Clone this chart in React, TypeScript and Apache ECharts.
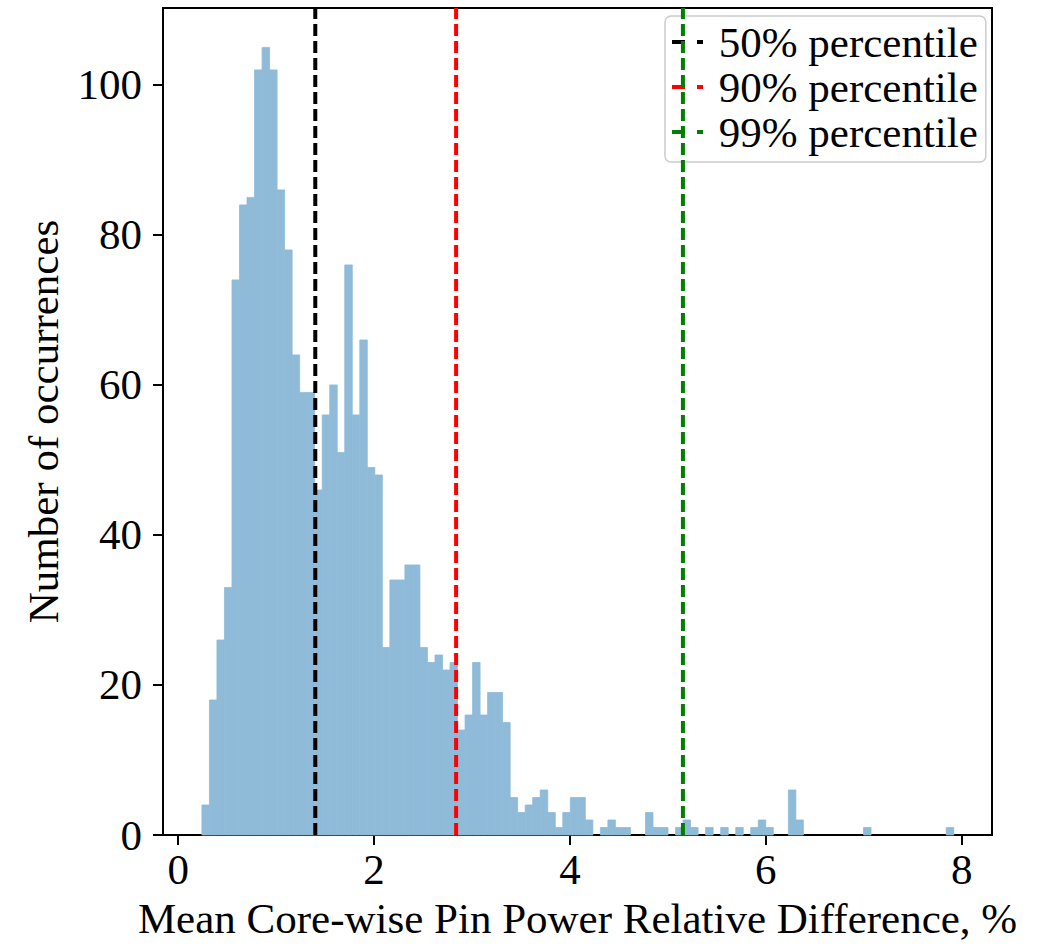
import React, { useEffect, useRef } from "react";
import * as echarts from "echarts";

const binStart = 0.2423;
const binWidth = 0.07677;
const counts = [
  4, 18, 26, 33, 74, 84, 85, 102, 105, 102,
  86, 78, 64, 59, 59, 46, 56, 60, 51, 76,
  56, 66, 49, 48, 25, 34, 34, 36, 36, 25,
  23, 24, 22, 23, 14, 16, 23, 16, 19, 19,
  15, 5, 3, 4, 5, 6, 3, 1, 3, 5,
  5, 2, 0, 1, 2, 1, 1, 0, 0, 3,
  1, 1, 0, 1, 2, 1, 0, 1, 0, 1,
  0, 1, 0, 1, 2, 1, 0, 0, 6, 2,
  0, 0, 0, 0, 0, 0, 0, 0, 1, 0,
  0, 0, 0, 0, 0, 0, 0, 0, 0, 1,
];
const percentileNames = ["50% percentile", "90% percentile", "99% percentile"];
const percentileValues = [1.4, 2.838, 5.154];
const percentileColors = ["#000000", "#ff0000", "#008000"];
const xTicks = [0, 2, 4, 6, 8];
const yTicks = [0, 20, 40, 60, 80, 100];
const xName = "Mean Core-wise Pin Power Relative Difference, %";
const yName = "Number of occurrences";

const X_MIN = -0.155;
const X_MAX = 8.31;
const Y_MAX = 110.25;
const FONT = "'Liberation Serif', 'Times New Roman', serif";
const FS = 43;
const BAR_COLOR = "#8fbbd9";

export default function App() {
  const ref = useRef<HTMLDivElement>(null);
  useEffect(() => {
    if (!ref.current) return;
    const chart = echarts.init(ref.current, null, { renderer: "svg" });
    const histData = counts.map((c, i) => [
      binStart + i * binWidth,
      binStart + (i + 1) * binWidth,
      c,
    ]);
    const lineSeries = percentileNames.map((name, i) => ({
      name,
      type: "line",
      data: [
        [percentileValues[i], 0],
        [percentileValues[i], Y_MAX],
      ],
      symbol: "none",
      silent: true,
      z: 5,
      itemStyle: { color: percentileColors[i] },
      lineStyle: { color: percentileColors[i], width: 4, type: [12, 5] },
    }));
    const axisCommon = {
      axisLine: { show: true, onZero: false, lineStyle: { color: "#000", width: 2 } },
      axisTick: { show: true, inside: false, length: 10, lineStyle: { color: "#000", width: 2 } },
      splitLine: { show: false },
    };
    chart.setOption({
      animation: false,
      backgroundColor: "#ffffff",
      grid: {
        left: 163,
        right: 1053 - 992,
        top: 8,
        bottom: 946 - 835,
        show: true,
        borderColor: "#000",
        borderWidth: 2,
        backgroundColor: "transparent",
      },
      xAxis: {
        type: "value",
        min: X_MIN,
        max: X_MAX,
        ...axisCommon,
        axisTick: { ...axisCommon.axisTick, customValues: xTicks },
        axisLabel: {
          customValues: xTicks,
          margin: 13,
          color: "#000",
          fontFamily: FONT,
          fontSize: FS,
        },
        name: xName,
        nameLocation: "middle",
        nameGap: 62,
        nameTextStyle: { color: "#000", fontFamily: FONT, fontSize: FS },
      },
      yAxis: {
        type: "value",
        min: 0,
        max: Y_MAX,
        ...axisCommon,
        axisTick: { ...axisCommon.axisTick, customValues: yTicks },
        axisLabel: {
          customValues: yTicks,
          margin: 21,
          color: "#000",
          fontFamily: FONT,
          fontSize: FS,
        },
        name: yName,
        nameLocation: "middle",
        nameGap: 98,
        nameTextStyle: { color: "#000", fontFamily: FONT, fontSize: FS },
      },
      legend: {
        orient: "vertical",
        left: 665,
        top: 16,
        padding: [4, 8, 8, 7],
        itemGap: 1,
        itemWidth: 31,
        itemHeight: 4,
        backgroundColor: "rgba(255,255,255,0.8)",
        borderColor: "#cccccc",
        borderWidth: 1.5,
        borderRadius: 6,
        formatter: (n: string) => " " + n,
        textStyle: { color: "#000", fontFamily: FONT, fontSize: FS, lineHeight: 44 },
        data: percentileNames.map((name) => ({
          name,
          icon: "path://M0,0H13V4H0Z M25,0H31V4H25Z",
        })),
      },
      series: [
        {
          type: "custom",
          name: "hist",
          data: histData,
          encode: { x: [0, 1], y: 2 },
          z: 2,
          renderItem: (params: any, api: any) => {
            if (!api.value(2)) return null;
            const p0 = api.coord([api.value(0), api.value(2)]);
            const p1 = api.coord([api.value(1), 0]);
            return {
              type: "rect",
              shape: { x: p0[0], y: p0[1], width: p1[0] - p0[0], height: p1[1] - p0[1] },
              style: { fill: BAR_COLOR, stroke: BAR_COLOR, lineWidth: 0.8 },
            };
          },
        },
        ...lineSeries,
      ],
    });
    return () => chart.dispose();
  }, []);
  return (
    <div
      ref={ref}
      style={{ position: "fixed", left: 0, top: 0, width: 1053, height: 946 }}
    />
  );
}
